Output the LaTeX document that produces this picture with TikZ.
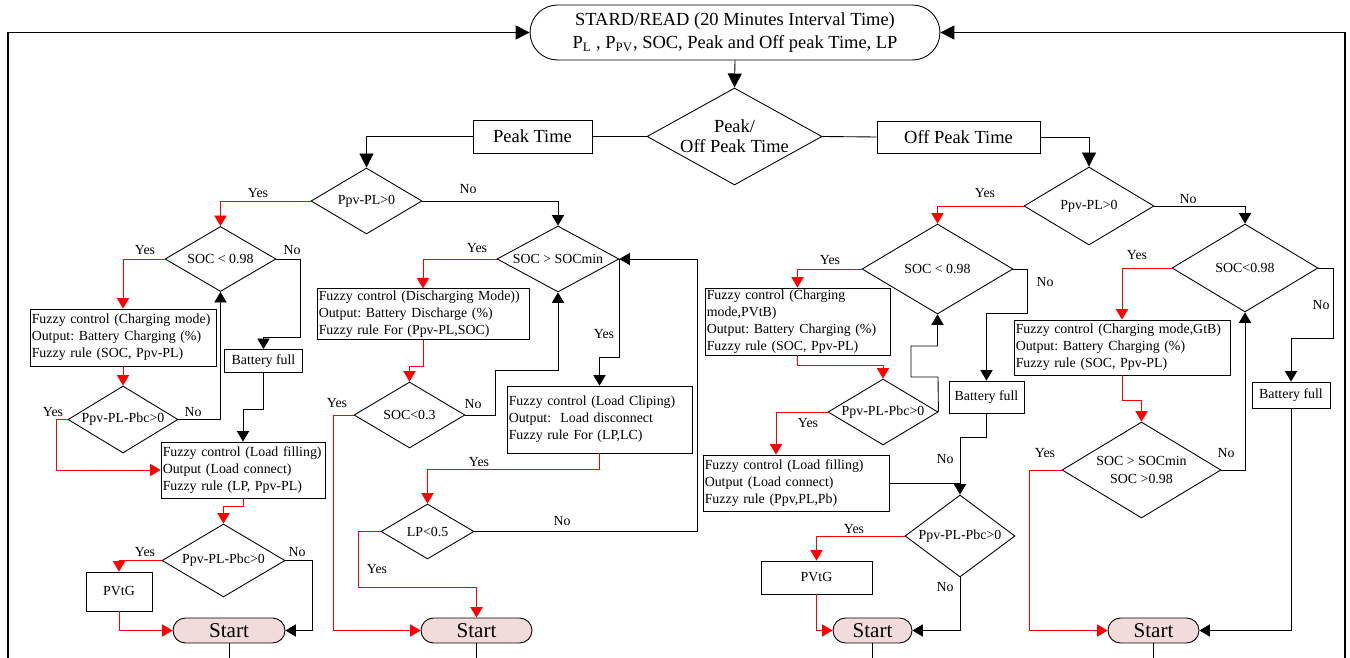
\documentclass[tikz,border=0pt]{standalone}
\usepackage{fontspec}
\setmainfont{Liberation Serif}
\usetikzlibrary{arrows.meta,shapes.geometric,shapes.misc}
\definecolor{startpink}{RGB}{242,220,219}
\frenchspacing

\begin{document}
\begin{tikzpicture}[x=0.02cm,y=-0.02cm,line width=0.5pt]
	\tikzstyle{box}=[rectangle,draw=black,inner sep=1pt,font=\fontsize{7.9}{9.7}\selectfont]
	\tikzstyle{info}=[box,align=left,execute at begin node={\hyphenpenalty=10000}]
	\tikzstyle{decision}=[diamond,draw=black,aspect=2,inner sep=0pt,align=center,font=\fontsize{7.9}{9.7}\selectfont]
	\tikzstyle{term}=[rounded rectangle,draw=black,fill=startpink,inner sep=0pt,font=\fontsize{12}{14}\selectfont]
	\tikzstyle{lbl}=[inner sep=0pt,font=\fontsize{7.9}{9.7}\selectfont]
	\tikzstyle{arr}=[-{Triangle[length=6pt,width=7pt]}]
	\tikzstyle{bigarr}=[-{Triangle[length=8pt,width=8pt]}]
	\tikzstyle{yes}=[red,arr]
	\useasboundingbox (0,0) rectangle (1350,658);
	% top of the chart
	\node[rounded rectangle,draw=black,minimum width=8.2cm,minimum height=1.1cm,inner sep=0pt,align=center,font=\fontsize{10.5}{13}\selectfont] (1) at (735,32.5) {STARD/READ (20 Minutes Interval Time)\\P\textsubscript{L} , P\textsubscript{PV}, SOC, Peak and Off peak Time, LP};
	\node[decision,minimum width=3.26cm,minimum height=1.94cm,font=\fontsize{10.5}{11.5}\selectfont] (2) at (734.5,136.5) {Peak/\\Off Peak Time};
	\node[box,minimum width=2.38cm,minimum height=0.66cm,font=\fontsize{10.5}{13}\selectfont] (3) at (532.5,136.5) {Peak Time};
	\node[box,minimum width=3.26cm,minimum height=0.64cm,font=\fontsize{10.5}{13}\selectfont] (4) at (958.5,137) {Off Peak Time};
	% peak time, surplus side
	\node[decision,minimum width=2.22cm,minimum height=1.32cm] (5) at (366.5,201) {Ppv-PL>0};
	\node[decision,minimum width=2.22cm,minimum height=1.3cm] (6) at (220.5,259) {SOC < 0.98};
	\node[info,text width=3.65cm,minimum height=1.14cm] (7) at (123,337.5) {Fuzzy control (Charging mode)\\Output: Battery Charging (\%)\\Fuzzy rule (SOC, Ppv-PL)};
	\node[decision,minimum width=2.2cm,minimum height=1.34cm] (8) at (123,419.5) {Ppv-PL-Pbc>0};
	\node[box,minimum width=1.56cm,minimum height=0.46cm] (9) at (263.5,361) {Battery full};
	\node[info,text width=3.21cm,minimum height=1.12cm] (10) at (243,470) {Fuzzy control (Load filling)\\Output (Load connect)\\Fuzzy rule (LP, Ppv-PL)};
	\node[decision,minimum width=2.46cm,minimum height=1.46cm] (11) at (223.5,560.5) {Ppv-PL-Pbc>0};
	\node[box,minimum width=1.32cm,minimum height=0.78cm] (12) at (119,591.5) {PVtG};
	\node[term,minimum width=2.24cm,minimum height=0.5cm] (13) at (229,630.5) {Start};
	% peak time, deficit side
	\node[decision,minimum width=2.44cm,minimum height=1.32cm] (14) at (558,259) {SOC > SOCmin};
	\node[info,text width=4.17cm,minimum height=0.92cm] (15) at (423,314) {Fuzzy control (Discharging Mode))\\Output: Battery Discharge (\%)\\Fuzzy rule For (Ppv-PL,SOC)};
	\node[decision,minimum width=2.22cm,minimum height=1.32cm] (16) at (409.5,415) {SOC<0.3};
	\node[info,text width=3.63cm,minimum height=1.34cm] (17) at (599.5,419.5) {Fuzzy control (Load Cliping)\\Output:\ \ Load disconnect\\Fuzzy rule For (LP,LC)};
	\node[decision,minimum width=1.86cm,minimum height=1.1cm] (18) at (427.5,531.5) {LP<0.5};
	\node[term,minimum width=2.22cm,minimum height=0.5cm] (19) at (476.5,630.5) {Start};
	% off peak time, surplus side
	\node[decision,minimum width=2.6cm,minimum height=1.56cm] (20) at (1089,206) {Ppv-PL>0};
	\node[decision,minimum width=3.02cm,minimum height=1.8cm] (21) at (937.5,269) {SOC < 0.98};
	\node[info,text width=3.63cm,minimum height=1.34cm,inner ysep=0.5pt] (22) at (797.5,321.5) {Fuzzy control (Charging\\mode,PVtB)\\Output: Battery Charging (\%)\\Fuzzy rule (SOC, Ppv-PL)};
	\node[decision,minimum width=2.2cm,minimum height=1.32cm] (23) at (883,412) {Ppv-PL-Pbc>0};
	\node[box,minimum width=1.5cm,minimum height=0.64cm] (24) at (986.5,397) {Battery full};
	\node[info,text width=3.65cm,minimum height=1.12cm] (25) at (796,483) {Fuzzy control (Load filling)\\Output (Load connect)\\Fuzzy rule (Ppv,PL,Pb)};
	\node[decision,minimum width=2.2cm,minimum height=1.64cm] (26) at (960,536) {Ppv-PL-Pbc>0};
	\node[box,minimum width=2.22cm,minimum height=0.66cm] (27) at (816.5,577.5) {PVtG};
	\node[term,minimum width=1.58cm,minimum height=0.5cm] (28) at (872.5,630.5) {Start};
	% off peak time, grid side
	\node[decision,minimum width=2.92cm,minimum height=1.76cm] (29) at (1245,268) {SOC<0.98};
	\node[info,text width=4.25cm,minimum height=1.1cm] (30) at (1122,347.5) {Fuzzy control (Charging mode,GtB)\\Output: Battery Charging (\%)\\Fuzzy rule (SOC, Ppv-PL)};
	\node[box,minimum width=1.56cm,minimum height=0.52cm] (31) at (1291,395) {Battery full};
	\node[decision,minimum width=3.18cm,minimum height=1.92cm] (32) at (1141.5,470) {SOC > SOCmin\\SOC >0.98};
	\node[term,minimum width=1.82cm,minimum height=0.5cm] (33) at (1153.5,630.5) {Start};
	% loose ends at the bottom
	\coordinate (b1) at (8,658);
	\coordinate (b2) at (1345,658);
	\coordinate (b3) at (229,658);
	\coordinate (b4) at (476.5,658);
	\coordinate (b5) at (872.5,658);
	\coordinate (b6) at (1153.5,658);
	% connectors
	\draw[bigarr,line width=0.7pt] (b1) |- (1.west);
	\draw[bigarr,line width=0.7pt] (b2) |- (1.east);
	\draw[bigarr] (1.south) -- (2.north);
	\draw (2.west) -- (3.east);
	\draw (2.east) -- (4.west);
	\draw[bigarr] (3.west) -| (5.north);
	\draw[bigarr] (4.east) -| (20.north);
	\draw[yes] (5.west) -| (6.north);
	\draw[arr] (5.east) -| (14.north);
	\draw[yes] (6.west) -| (7.north);
	\draw[arr] (6.east) -| (300,337) -| (9.north);
	\draw[arr] (9.south) |- (243,409) -- (10.north);
	\draw[yes] (7.south) -- (8.north);
	\draw[arr] (8.east) -| (6.south);
	\draw[yes] (8.west) -- (56,419.5) |- (10.west);
	\draw[yes] (10.south) |- (223.5,506) -- (11.north);
	\draw[yes] (11.west) -| (12.north);
	\draw[yes] (12.south) |- (13.west);
	\draw[arr] (11.east) -- (312,560.5) |- (13.east);
	\draw (13.south) -- (b3);
	\draw[yes] (14.west) -| (15.north);
	\draw[yes] (15.south) |- (409.5,366) -- (16.north);
	\draw[arr] (16.east) -- (495,415) |- (558,370) -- (14.south);
	\draw[yes] (16.west) -- (333,415) |- (19.west);
	\draw[arr] (14.east) |- (599.5,357) -- (17.north);
	\draw[yes] (17.south) |- (427.5,469) -- (18.north);
	\draw[arr] (18.east) -| (697,259) -- (14.east);
	\draw[yes] (18.west) -- (358,531.5) |- (476.5,587) -- (19.north);
	\draw (19.south) -- (b4);
	\draw[yes] (20.west) -| (21.north);
	\draw[arr] (20.east) -| (29.north);
	\draw[yes] (21.west) -| (22.north);
	\draw[arr] (21.east) -- (1027,269) |- (986.5,313) -- (24.north);
	\draw[yes] (22.south) |- (883,365) -- (23.north);
	\draw[arr] (23.east) -- (938,377) -- (911,377) -- (911,346) -- (937.5,346) -- (21.south);
	\draw[yes] (23.west) -| ([xshift=-0.4cm]25.north);
	\draw[arr] (24.south) |- (960,437) -- (26.north);
	\draw (25.east) -- (25.east -| 26.north);
	\draw[yes] (26.west) -| (27.north);
	\draw[yes] (27.south) |- (28.west);
	\draw[arr] (26.south) |- (28.east);
	\draw (28.south) -- (b5);
	\draw[yes] (29.west) -| (30.north);
	\draw[arr] (29.east) -- (1333,268) |- (1291,338) -- (31.north);
	\draw[yes] (30.south) |- (1141.5,400) -- (32.north);
	\draw[arr] (32.east) -| (29.south);
	\draw[yes] (32.west) -- (1029,470) |- (33.west);
	\draw[arr] (31.south) |- (33.east);
	\draw (33.south) -- (b6);
	% branch labels
	\node[lbl] (l1) at (258,193) {Yes};
	\node[lbl] (l2) at (468,189) {No};
	\node[lbl] (l3) at (145,250) {Yes};
	\node[lbl] (l4) at (292,250) {No};
	\node[lbl] (l5) at (193,412) {No};
	\node[lbl] (l6) at (53,412) {Yes};
	\node[lbl] (l7) at (145,552) {Yes};
	\node[lbl] (l8) at (297,552) {No};
	\node[lbl] (l9) at (477,248) {Yes};
	\node[lbl] (l10) at (473,404) {No};
	\node[lbl] (l11) at (337,403) {Yes};
	\node[lbl] (l12) at (604,334) {Yes};
	\node[lbl] (l13) at (479,462) {Yes};
	\node[lbl] (l14) at (562,521) {No};
	\node[lbl] (l15) at (377,569) {Yes};
	\node[lbl] (l16) at (985,193) {Yes};
	\node[lbl] (l17) at (1188,199) {No};
	\node[lbl] (l18) at (830,260) {Yes};
	\node[lbl] (l19) at (1045,282) {No};
	\node[lbl] (l20) at (808,423) {Yes};
	\node[lbl] (l21) at (945,459) {No};
	\node[lbl] (l22) at (854,529) {Yes};
	\node[lbl] (l23) at (945,587) {No};
	\node[lbl] (l24) at (1137,255) {Yes};
	\node[lbl] (l25) at (1321,305) {No};
	\node[lbl] (l26) at (1226,453) {No};
	\node[lbl] (l27) at (1045,453) {Yes};
\end{tikzpicture}
\end{document}
